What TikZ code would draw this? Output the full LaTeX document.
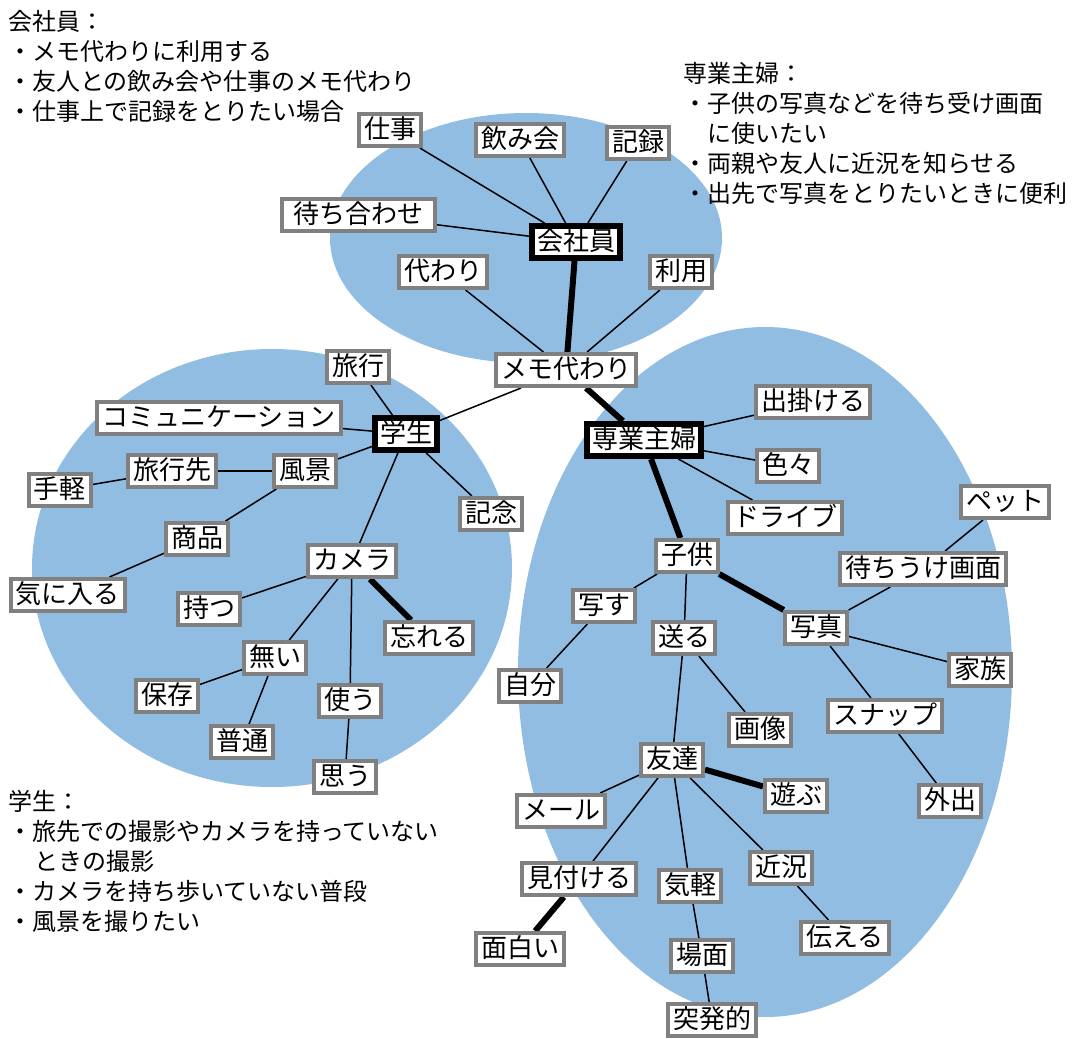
\documentclass[tikz,border=0pt]{standalone}
\usepackage{fontspec}
\setmainfont{Noto Sans CJK JP}
\pgfdeclarelayer{ell}
\pgfdeclarelayer{lnk}
\pgfsetlayers{ell,lnk,main}
\definecolor{bubble}{RGB}{146,189,227}
\definecolor{boxgray}{RGB}{128,128,128}
\tikzset{
 kw/.style={draw=boxgray, line width=4pt, fill=white, font=\fontsize{26}{26}\selectfont, inner xsep=5pt, inner ysep=3pt, text height=21pt, text depth=5pt},
 hub/.style={kw, draw=black, line width=6pt},
 ln/.style={line width=1.5pt, draw=black},
 tk/.style={line width=6pt, draw=black},
 note/.style={anchor=north west, inner sep=0pt, align=left, font=\fontsize{24}{30}\selectfont},
 bub/.style={fill=bubble, draw=none}
}
\begin{document}
\begin{tikzpicture}[x=1pt,y=-1pt]
\useasboundingbox (0,0) rectangle (1074,1039);
\begin{pgfonlayer}{ell}
\fill[bub] (526,238) ellipse [x radius=196pt, y radius=125pt];
\fill[bub] (272,568) ellipse [x radius=240pt, y radius=219pt];
\fill[bub] (765,672) ellipse [x radius=247pt, y radius=345pt];
\end{pgfonlayer}

% notes
\node[note] (n1) at (8,10) {会社員：\\・メモ代わりに利用する\\・友人との飲み会や仕事のメモ代わり\\・仕事上で記録をとりたい場合};
\node[note] (n2) at (683,62) {専業主婦：\\・子供の写真などを待ち受け画面\\\hspace*{1em}に使いたい\\・両親や友人に近況を知らせる\\・出先で写真をとりたいときに便利};
\node[note] (n3) at (8,790) {学生：\\・旅先での撮影やカメラを持っていない\\\hspace*{1.1em}ときの撮影\\・カメラを持ち歩いていない普段\\・風景を撮りたい};

% 会社員 cluster
\node[hub] (kaisha) at (576,242) {会社員};
\node[kw] (shigoto) at (390,130) {仕事};
\node[kw] (nomikai) at (520,140) {飲み会};
\node[kw] (kiroku) at (638,143) {記録};
\node[kw, minimum width=153pt] (machiawase) at (358,215) {待ち合わせ};
\node[kw] (kawari) at (443,272) {代わり};
\node[kw] (riyou) at (681,272) {利用};
\node[kw] (memo) at (566,370) {メモ代わり};

% 学生 cluster
\node[hub] (gakusei) at (406,434) {学生};
\node[kw] (ryokou) at (358,367) {旅行};
\node[kw] (comm) at (219,418) {コミュニケーション};
\node[kw] (fukei) at (305,471) {風景};
\node[kw] (ryokousaki) at (172,471) {旅行先};
\node[kw] (tegaru) at (60,490) {手軽};
\node[kw] (kinen) at (491,514) {記念};
\node[kw] (shouhin) at (197,539) {商品};
\node[kw] (camera) at (352,561) {カメラ};
\node[kw] (kiniiru) at (68,595) {気に入る};
\node[kw] (motsu) at (209,609) {持つ};
\node[kw] (wasureru) at (429,638) {忘れる};
\node[kw] (nai) at (275,658) {無い};
\node[kw] (hozon) at (167,696) {保存};
\node[kw] (tsukau) at (350,701) {使う};
\node[kw] (futsuu) at (242,742) {普通};
\node[kw] (omou) at (345,777) {思う};

% 専業主婦 cluster
\node[hub] (sengyou) at (644,440) {専業主婦};
\node[kw] (dekakeru) at (813,402) {出掛ける};
\node[kw] (iroiro) at (788,466) {色々};
\node[kw] (drive) at (785,518) {ドライブ};
\node[kw] (pet) at (1005,502) {ペット};
\node[kw] (kodomo) at (687,556) {子供};
\node[kw] (machiuke) at (923,569) {待ちうけ画面};
\node[kw] (utsusu) at (604,606) {写す};
\node[kw] (shashin) at (816,628) {写真};
\node[kw] (okuru) at (684,638) {送る};
\node[kw] (kazoku) at (980,670) {家族};
\node[kw] (jibun) at (530,686) {自分};
\node[kw] (snap) at (885,716) {スナップ};
\node[kw] (gazou) at (760,730) {画像};
\node[kw] (tomodachi) at (672,760) {友達};
\node[kw] (asobu) at (796,796) {遊ぶ};
\node[kw] (gaishutsu) at (950,801) {外出};
\node[kw] (mail) at (561,811) {メール};
\node[kw] (mitsukeru) at (579,879) {見付ける};
\node[kw] (kigaru) at (690,886) {気軽};
\node[kw] (kinkyou) at (781,868) {近況};
\node[kw] (tsutaeru) at (845,938) {伝える};
\node[kw] (omoshiroi) at (520,949) {面白い};
\node[kw] (bamen) at (702,956) {場面};
\node[kw] (toppatsu) at (712,1020) {突発的};

\begin{pgfonlayer}{lnk}
\draw[ln] (kaisha) -- (shigoto);
\draw[ln] (kaisha) -- (nomikai);
\draw[ln] (kaisha) -- (kiroku);
\draw[ln] (kaisha) -- (machiawase);
\draw[tk] (kaisha) -- (memo);
\draw[ln] (memo) -- (kawari);
\draw[ln] (memo) -- (riyou);
\draw[ln] (memo) -- (gakusei);
\draw[tk] (memo) -- (sengyou);

\draw[ln] (gakusei) -- (ryokou);
\draw[ln] (gakusei) -- (comm);
\draw[ln] (gakusei) -- (fukei);
\draw[ln] (gakusei) -- (kinen);
\draw[ln] (gakusei) -- (camera);
\draw[ln] (fukei) -- (ryokousaki);
\draw[ln] (fukei) -- (shouhin);
\draw[ln] (ryokousaki) -- (tegaru);
\draw[ln] (shouhin) -- (kiniiru);
\draw[ln] (camera) -- (motsu);
\draw[ln] (camera) -- (nai);
\draw[ln] (camera) -- (tsukau);
\draw[tk] (camera) -- (wasureru);
\draw[ln] (nai) -- (hozon);
\draw[ln] (nai) -- (futsuu);
\draw[ln] (tsukau) -- (omou);

\draw[ln] (sengyou) -- (dekakeru);
\draw[ln] (sengyou) -- (iroiro);
\draw[ln] (sengyou) -- (drive);
\draw[tk] (sengyou) -- (kodomo);
\draw[ln] (kodomo) -- (utsusu);
\draw[ln] (kodomo) -- (okuru);
\draw[tk] (kodomo) -- (shashin);
\draw[ln] (utsusu) -- (jibun);
\draw[ln] (shashin) -- (machiuke);
\draw[ln] (shashin) -- (kazoku);
\draw[ln] (shashin) -- (snap);
\draw[ln] (machiuke) -- (pet);
\draw[ln] (snap) -- (gaishutsu);
\draw[ln] (okuru) -- (tomodachi);
\draw[ln] (okuru) -- (gazou);
\draw[ln] (tomodachi) -- (mail);
\draw[ln] (tomodachi) -- (mitsukeru);
\draw[ln] (tomodachi) -- (kigaru);
\draw[ln] (tomodachi) -- (kinkyou);
\draw[tk] (tomodachi) -- (asobu);
\draw[tk] (mitsukeru) -- (omoshiroi);
\draw[ln] (kigaru) -- (bamen);
\draw[ln] (bamen) -- (toppatsu);
\draw[ln] (kinkyou) -- (tsutaeru);
\end{pgfonlayer}
\end{tikzpicture}
\end{document}
